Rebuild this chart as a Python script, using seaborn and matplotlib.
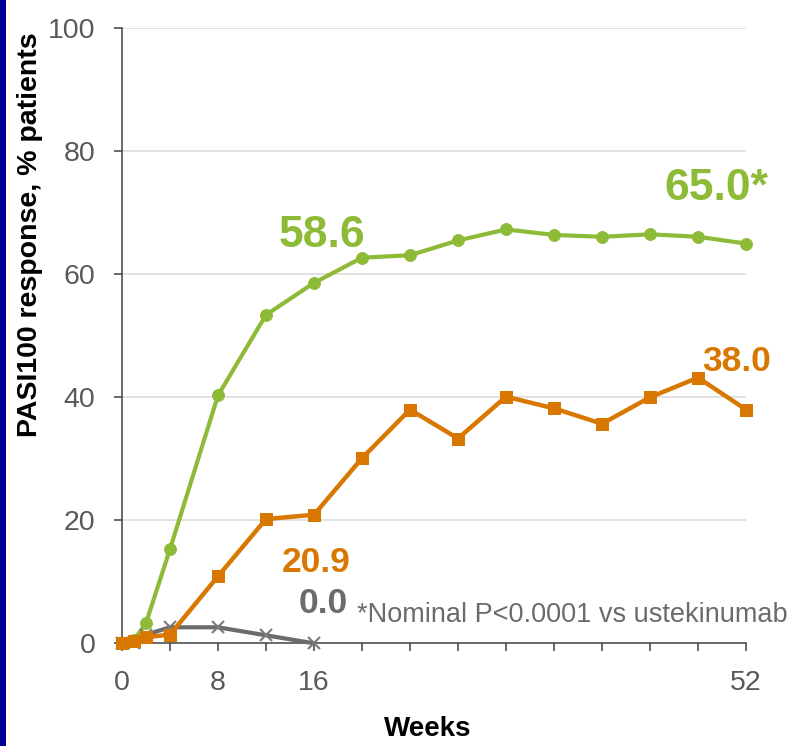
import matplotlib
matplotlib.use("Agg")
import matplotlib.pyplot as plt
import matplotlib.ticker as mticker
from matplotlib.patches import Rectangle
import seaborn as sns
import pandas as pd

# ---- data ----
weeks = [0, 1, 2, 4, 8, 12, 16, 20, 24, 28, 32, 36, 40, 44, 48, 52]
green_vals = [0, 0.5, 3.3, 15.3, 40.3, 53.4, 58.6, 62.7, 63.1, 65.5, 67.3, 66.4, 66.1, 66.5, 66.1, 65.0]
orange_vals = [0, 0.3, 1.0, 1.4, 10.9, 20.2, 20.9, 30.1, 38.0, 33.3, 40.1, 38.2, 35.7, 40.0, 43.2, 38.0]
gray_weeks = [0, 1, 2, 4, 8, 12, 16]
gray_vals = [0, 0, 1.4, 2.6, 2.6, 1.3, 0.0]

x_ticks = list(range(0, 53, 4))
x_labels_shown = [0, 8, 16, 52]
y_ticks = [0, 20, 40, 60, 80, 100]

GREEN = "#8DBB38"
ORANGE = "#D97800"
GRAY = "#6B6B6B"
TICKC = "#595959"

sns.set_theme(style="white")
plt.rcParams["font.family"] = ["Liberation Sans", "DejaVu Sans"]

fig = plt.figure(figsize=(7.96, 7.46), dpi=100)
fig.patch.set_facecolor("white")
ax = fig.add_axes([122 / 796, 1 - 643.3 / 746, 624 / 796, 615 / 746])
ax.set_facecolor("white")

df_g = pd.DataFrame({"week": weeks, "val": green_vals})
df_o = pd.DataFrame({"week": weeks, "val": orange_vals})
df_k = pd.DataFrame({"week": gray_weeks, "val": gray_vals})

for yv in y_ticks[1:]:
    ax.axhline(yv, color="#DCDCDC", lw=1.2, zorder=0)

sns.lineplot(data=df_g, x="week", y="val", ax=ax, color=GREEN, lw=3.0,
             marker="o", markersize=8.5, markeredgecolor=GREEN, clip_on=False, zorder=3)
sns.lineplot(data=df_k, x="week", y="val", ax=ax, color=GRAY, lw=3.0,
             marker="x", markersize=9, markeredgewidth=1.5, markeredgecolor="#7A7A7A",
             clip_on=False, zorder=4)
sns.lineplot(data=df_o, x="week", y="val", ax=ax, color=ORANGE, lw=3.2,
             marker="s", markersize=9, markeredgecolor=ORANGE, clip_on=False, zorder=5)

ax.set_xlim(0, 52)
ax.set_ylim(0, 100)
ax.xaxis.set_major_locator(mticker.FixedLocator(x_ticks))
ax.xaxis.set_major_formatter(mticker.FixedFormatter(
    [str(t) if t in x_labels_shown else "" for t in x_ticks]))
ax.yaxis.set_major_locator(mticker.FixedLocator(y_ticks))

for s in ["top", "right"]:
    ax.spines[s].set_visible(False)
for s in ["left", "bottom"]:
    ax.spines[s].set_color("#404040")
    ax.spines[s].set_linewidth(1.1)

ax.tick_params(axis="both", which="major", direction="out", length=6, width=1.1,
               color="#404040", labelsize=20.5, labelcolor=TICKC, pad=13,
               bottom=True, left=True)

ax.set_xlabel("Weeks", fontsize=20, fontweight="bold", color="black")
ax.xaxis.set_label_coords(0.49, -0.118)
ax.set_ylabel("PASI100 response, % patients", fontsize=20.5, fontweight="bold", color="black")
ax.yaxis.set_label_coords(-0.127, 0.664)

# annotations
ax.text(16.7, 64.5, "58.6", color=GREEN, fontsize=32, fontweight="bold",
        ha="center", va="baseline")
ax.text(49.5, 72.1, "65.0*", color=GREEN, fontsize=32, fontweight="bold",
        ha="center", va="baseline", clip_on=False)
ax.text(51.2, 44.2, "38.0", color=ORANGE, fontsize=25.5, fontweight="bold",
        ha="center", va="baseline", clip_on=False)
ax.text(16.2, 11.6, "20.9", color=ORANGE, fontsize=25.5, fontweight="bold",
        ha="center", va="baseline")
ax.text(16.8, 4.9, "0.0", color=GRAY, fontsize=25.5, fontweight="bold",
        ha="center", va="baseline")
ax.text(19.6, 3.5, "*Nominal P<0.0001 vs ustekinumab", color=GRAY, fontsize=19.5,
        ha="left", va="baseline", clip_on=False)

fig.patches.append(Rectangle((0, 0), 6 / 796, 1, transform=fig.transFigure,
                             facecolor="#000099", edgecolor="none", zorder=10))

fig.savefig("out.png", dpi=100, facecolor="white")
